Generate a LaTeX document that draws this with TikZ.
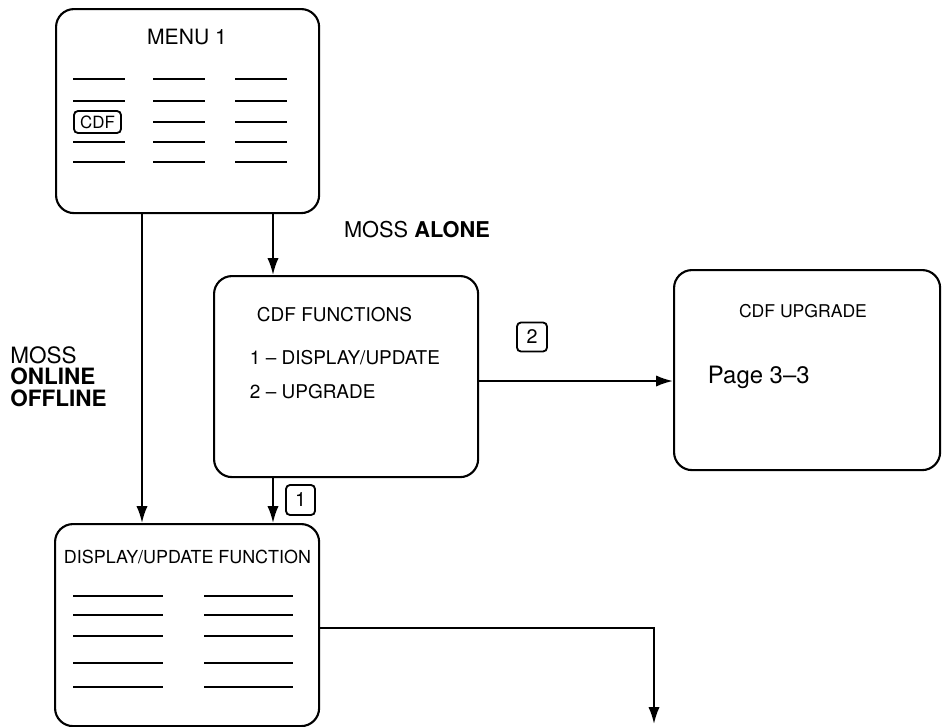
\documentclass[tikz,border=0pt]{standalone}
\usepackage{fontspec}
\setmainfont{TeX Gyre Heros}
\usepackage{tikz}
\usetikzlibrary{arrows.meta}

\tikzset{
    screen/.style={draw=black, line width=1.5pt, rounded corners=.45cm, anchor=north west, inner sep=0pt},
    keybox/.style={draw=black, line width=1.3pt, rounded corners=.1cm, inner sep=0pt},
    dummyline/.style={line width=1.2pt}
}

\begin{document}
\begin{tikzpicture}[x=.025cm, y=-.025cm]
        \useasboundingbox (0,0) rectangle (942,726);

        \node (menu) [screen, minimum width=6.575cm, minimum height=5.1cm] at (55,8) {};
        \node (menutitle) [font=\fontsize{15}{18}\selectfont] at (187,37) {MENU 1};
        \foreach \y in {79,101,142,162} \draw[dummyline] (73,\y) -- (125,\y);
        \foreach \y in {79,101,122,142,162} {
            \draw[dummyline] (153,\y) -- (205,\y);
            \draw[dummyline] (235,\y) -- (287,\y);
        }
        \node (cdfkey) [keybox, minimum width=1.175cm, minimum height=.55cm, font=\fontsize{12}{14}\selectfont] at (97.5,122) {CDF};

        \node (funcs) [screen, minimum width=6.6cm, minimum height=5.025cm] at (213,275) {};
        \node (funcstitle) [anchor=west, font=\fontsize{13.5}{16}\selectfont] at (252,315) {CDF FUNCTIONS};
        \node (funcsone) [anchor=west, font=\fontsize{13.5}{16}\selectfont] at (245,358) {1 \textendash\ DISPLAY/UPDATE};
        \node (funcstwo) [anchor=west, font=\fontsize{13.5}{16}\selectfont] at (245,392) {2 \textendash\ UPGRADE};

        \node (upgrade) [screen, minimum width=6.65cm, minimum height=5cm] at (673,269) {};
        \node (upgradetitle) [font=\fontsize{12.5}{15}\selectfont] at (803,311) {CDF UPGRADE};
        \node (pageref) [anchor=west, font=\fontsize{17}{20}\selectfont] at (703,377) {Page 3\textendash 3};

        \node (display) [screen, minimum width=6.6cm, minimum height=5.05cm] at (54,523) {};
        \node (displaytitle) [font=\fontsize{12.75}{15}\selectfont] at (187.5,557) {DISPLAY/UPDATE FUNCTION};
        \foreach \y in {596,615,636,663,687} {
            \draw[dummyline] (73,\y) -- (163,\y);
            \draw[dummyline] (204,\y) -- (293,\y);
        }

        \node (alone) [font=\fontsize{15.5}{18}\selectfont] at (417,230) {MOSS \textbf{ALONE}};
        \node (online) [anchor=north west, align=left, inner sep=0pt, font=\fontsize{16}{15.5}\selectfont] at (10,346) {MOSS\\\textbf{ONLINE}\\\textbf{OFFLINE}};

        \node (keytwo) [keybox, minimum width=.75cm, minimum height=.725cm, font=\fontsize{14}{16}\selectfont] at (532,337) {2};
        \node (keyone) [keybox, minimum width=.725cm, minimum height=.75cm, font=\fontsize{14}{16}\selectfont] at (300.5,500) {1};

        \coordinate (leftlane) at (142,0);
        \coordinate (rightlane) at (273,0);
        \coordinate (across) at (0,381);
        \coordinate (exit) at (0,628);
        \coordinate (out) at (654,724);

        \draw[->, >={Latex[length=12pt,width=8pt]}, line width=1.5pt] (menu.south -| leftlane) -- (display.north -| leftlane);
        \draw[->, >={Latex[length=12pt,width=8pt]}, line width=1.5pt] (menu.south -| rightlane) -- (funcs.north -| rightlane);
        \draw[->, >={Latex[length=12pt,width=8pt]}, line width=1.5pt] (funcs.south -| rightlane) -- (display.north -| rightlane);
        \draw[->, >={Latex[length=12pt,width=8pt]}, line width=1.5pt] (funcs.east |- across) -- (upgrade.west |- across);
        \draw[->, >={Latex[length=12pt,width=8pt]}, line width=1.5pt] (display.east |- exit) -| (out);
    \end{tikzpicture}
\end{document}
